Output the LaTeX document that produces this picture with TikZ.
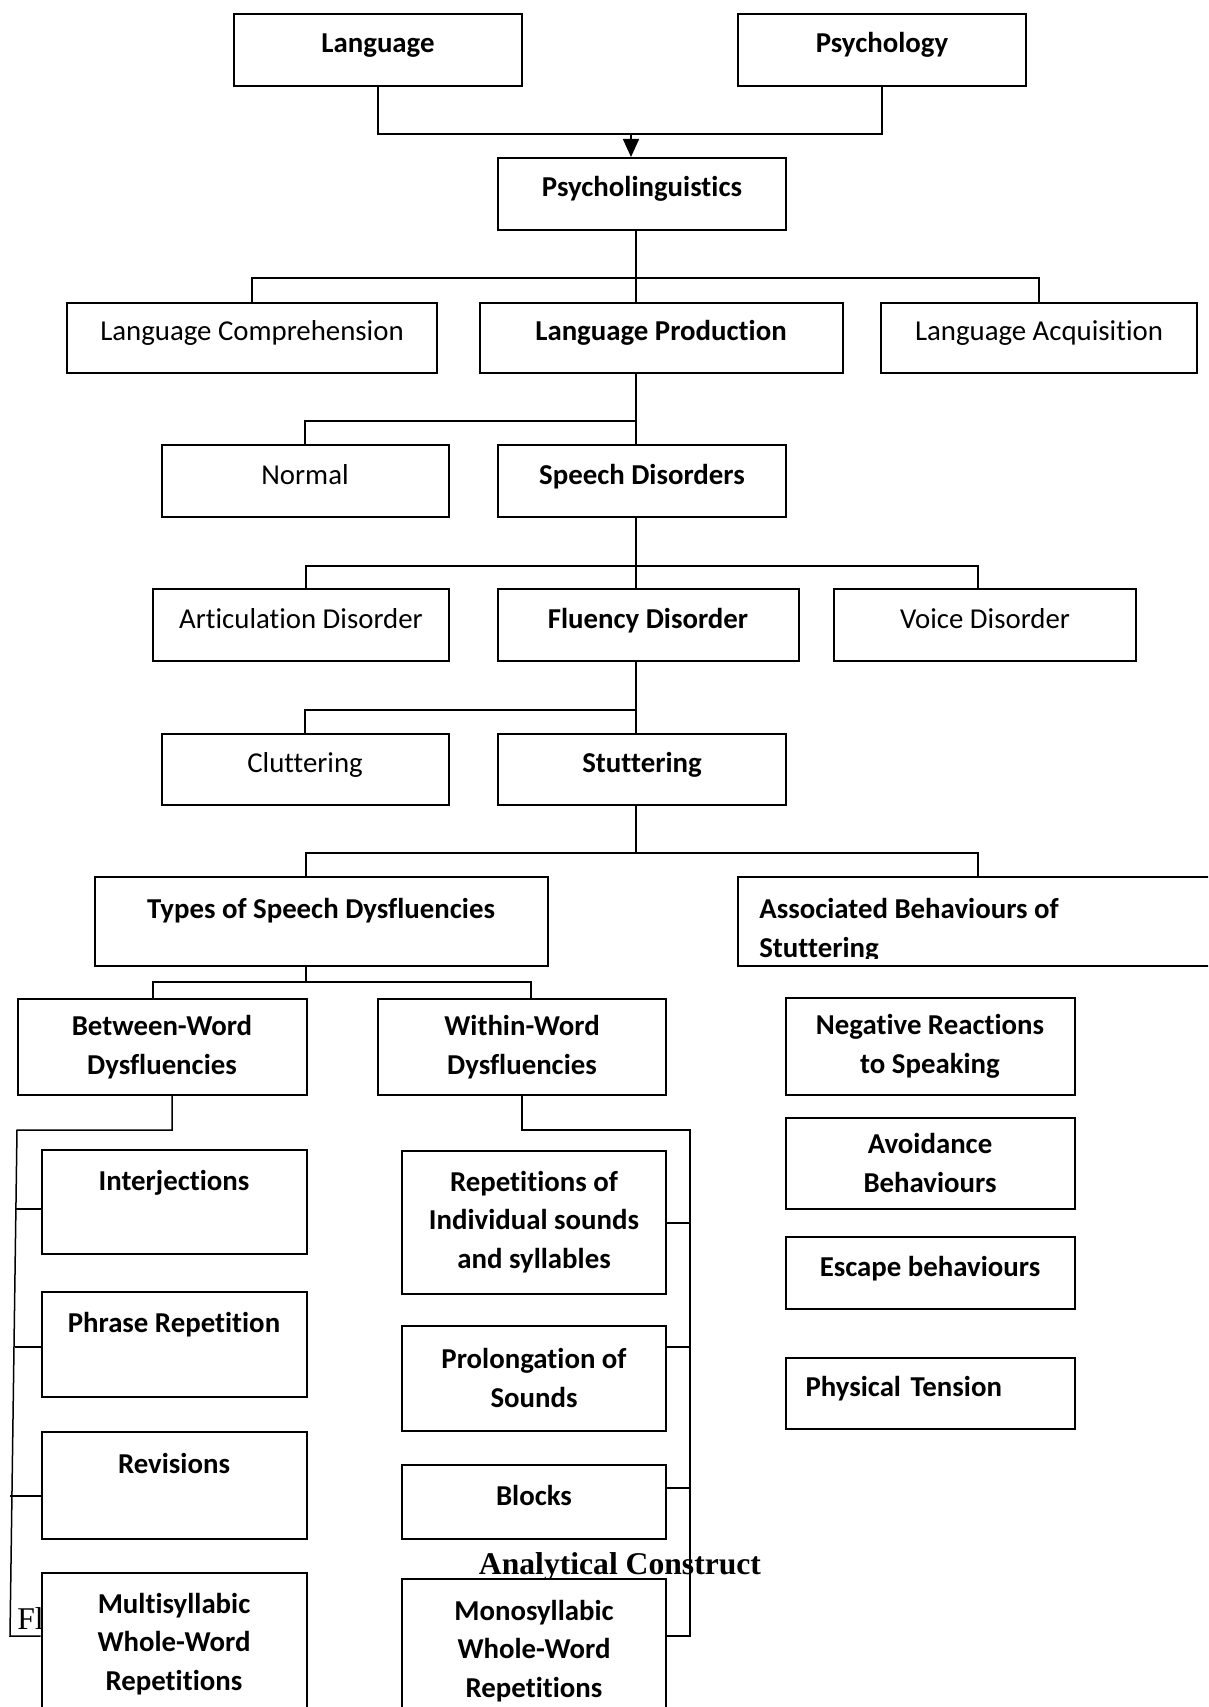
\documentclass[tikz,border=0pt]{standalone}
\usepackage{fontspec}
\setmainfont[Ligatures=NoCommon]{Carlito}
\newfontfamily\captionserif{Liberation Serif}
\usepackage{xcolor}
\usepackage{tikz}
\usetikzlibrary{arrows.meta, positioning, calc}

\newcommand{\boxfont}{\fontsize{16.4pt}{22.1pt}\selectfont}
\newcommand{\capfont}{\captionserif\fontsize{18pt}{22pt}\selectfont}

\begin{document}
\begin{tikzpicture}[
    x=0.2mm, y=-0.2mm,
    font=\boxfont,
    >={Triangle[length=3.6mm, width=3.2mm]},
    boxbase/.style={draw=black, fill=white, line width=0.4mm, inner sep=2mm, align=center},
    block/.style={boxbase, text height=4.4mm, text depth=3.2mm},
    topblock/.style={boxbase, text height=4.4mm, text depth=9.2mm},
    mblock/.style={boxbase},
    dims/.style 2 args={minimum width=#1*0.2mm, minimum height=#2*0.2mm},
    wire/.style={draw=black, line width=0.3mm},
]
\path[use as bounding box, clip] (0,0) rectangle (1208,1707);

% ── Sources ──
\node[block, dims={288}{72}] (lang) at (378,50) {\textbf{Language}};
\node[block, dims={288}{72}] (psych) at (882,50) {\textbf{Psychology}};
\node[block, dims={288}{72}] (psyling) at (642,194) {\textbf{Psycholinguistics}};

% ── Level 2 ──
\node[block, dims={370}{70}] (langcomp) at (252,338) {Language Comprehension};
\node[block, dims={363}{70}] (langprod) at (661,338) {\textbf{Language Production}};
\node[block, dims={316}{70}] (langacq) at (1039,338) {Language Acquisition};

% ── Level 3 ──
\node[block, dims={287}{72}] (normal) at (305,481) {Normal};
\node[block, dims={288}{72}] (speech) at (642,481) {\textbf{Speech Disorders}};

% ── Level 4 ──
\node[block, dims={296}{72}] (artic) at (301,625) {Articulation Disorder};
\node[block, dims={301}{72}] (fluency) at (648,625) {\textbf{Fluency Disorder}};
\node[block, dims={302}{72}] (voice) at (985,625) {Voice Disorder};

% ── Level 5 ──
\node[block, dims={287}{71}] (clutter) at (305,769) {Cluttering};
\node[block, dims={288}{71}] (stutter) at (642,769) {\textbf{Stuttering}};

% ── Level 6 ──
\node[boxbase, text height=4.4mm, text depth=5.6mm, dims={453}{89}] (types) at (321,921) {\textbf{Types of Speech Dysfluencies}};
\node[boxbase, dims={562}{89}] (assoc) at (1019,921) {};
\begin{scope}
  \clip (738,877) rectangle (1208,958);
  \node[anchor=north west, align=left, inner sep=0pt] (assoctext) at (759,898) {\textbf{Associated Behaviours of}\\\textbf{Stuttering}};
\end{scope}

% ── Dysfluency groups ──
\node[mblock, dims={289}{96}] (between) at (162,1047) {\textbf{Between-Word}\\\textbf{Dysfluencies}};
\node[mblock, dims={288}{96}] (within) at (522,1047) {\textbf{Within-Word}\\\textbf{Dysfluencies}};

% ── Associated behaviours ──
\node[mblock, dims={289}{97}] (negreact) at (930,1046) {\textbf{Negative Reactions}\\\textbf{to Speaking}};
\node[mblock, dims={289}{91}] (avoid) at (930,1163) {\textbf{Avoidance}\\\textbf{Behaviours}};
\node[block, dims={289}{72}] (escape) at (930,1273) {\textbf{Escape behaviours}};
\node[block, dims={289}{71}, text width=49.8mm, align=left, inner xsep=4mm] (tension) at (930,1393) {\textbf{Physical Tension}};

% ── Caption remnants ──
\node[font=\capfont, anchor=base west, inner sep=0pt] (figtag) at (17,1629) {Fl};
\node[font=\capfont\bfseries, inner sep=0pt] (construct) at (620,1567) {Analytical Construct};

% ── Between-word column ──
\node[topblock, dims={265}{104}] (interj) at (174,1202) {\textbf{Interjections}};
\node[topblock, dims={265}{105}] (phrase) at (174,1344) {\textbf{Phrase Repetition}};
\node[topblock, dims={265}{107}] (revis) at (174,1485) {\textbf{Revisions}};
\node[mblock, dims={265}{142}] (multi) at (174,1644) {\textbf{Multisyllabic}\\\textbf{Whole-Word}\\\textbf{Repetitions}};

% ── Within-word column ──
\node[mblock, dims={264}{143}] (repet) at (534,1222) {\textbf{Repetitions of}\\\textbf{Individual sounds}\\\textbf{and syllables}};
\node[mblock, dims={264}{105}] (prolong) at (534,1378) {\textbf{Prolongation of}\\\textbf{Sounds}};
\node[block, dims={264}{74}] (blocks) at (534,1502) {\textbf{Blocks}};
\node[mblock, dims={264}{144}] (mono) at (534,1651) {\textbf{Monosyllabic}\\\textbf{Whole-Word}\\\textbf{Repetitions}};

% ── Connectors ──
\coordinate (colL) at (306,0);
\coordinate (colR) at (978,0);

\coordinate (join) at (631,134);
\draw[wire] (lang.south) |- (join) -| (psych.south);
\draw[wire, ->] (join) -- (join |- psyling.north);

\coordinate (t1) at (636,278);
\draw[wire] (t1 |- psyling.south) -- (t1 |- langprod.north);
\draw[wire] (langcomp.north) |- (t1) -| (langacq.north);

\coordinate (t2) at (636,421);
\draw[wire] (t2 |- langprod.south) -- (t2 |- speech.north);
\draw[wire] (t2) -| (normal.north);

\coordinate (t3) at (636,566);
\draw[wire] (t3 |- speech.south) -- (t3 |- fluency.north);
\draw[wire] (colL |- artic.north) |- (t3) -| (colR |- voice.north);

\coordinate (t4) at (636,710);
\draw[wire] (t4 |- fluency.south) -- (t4 |- stutter.north);
\draw[wire] (t4) -| (clutter.north);

\coordinate (t5) at (636,853);
\draw[wire] (t5 |- stutter.south) -- (t5);
\draw[wire] (colL |- types.north) |- (t5) -| (colR |- assoc.north);

\coordinate (t6) at (306,982);
\coordinate (t6l) at (153,982);
\coordinate (t6r) at (531,982);
\draw[wire] (colL |- types.south) -- (t6);
\draw[wire] (t6l |- between.north) -- (t6l) -- (t6r) -- (t6r |- within.north);

% between-word comb
\coordinate (b0) at (172,1130);
\coordinate (btop) at (17,1130);
\coordinate (bbot) at (10,1636);
\draw[wire] (b0 |- between.south) -- (b0) -- (btop) -- (bbot) -- (bbot -| multi.west);
\coordinate (bi) at (16,1209);
\coordinate (bp) at (15,1347);
\coordinate (br) at (10,1496);
\draw[wire] (bi) -- (bi -| interj.west);
\draw[wire] (bp) -- (bp -| phrase.west);
\draw[wire] (br) -- (br -| revis.west);

% within-word comb
\coordinate (w0) at (522,1130);
\coordinate (w1) at (690,1130);
\coordinate (w2) at (690,1636);
\draw[wire] (within.south) -- (w0) -- (w1) -- (w2) -- (w2 -| mono.east);
\coordinate (wr) at (690,1223);
\coordinate (wp) at (690,1347);
\coordinate (wb) at (690,1488);
\draw[wire] (wr) -- (wr -| repet.east);
\draw[wire] (wp) -- (wp -| prolong.east);
\draw[wire] (wb) -- (wb -| blocks.east);
\end{tikzpicture}
\end{document}
